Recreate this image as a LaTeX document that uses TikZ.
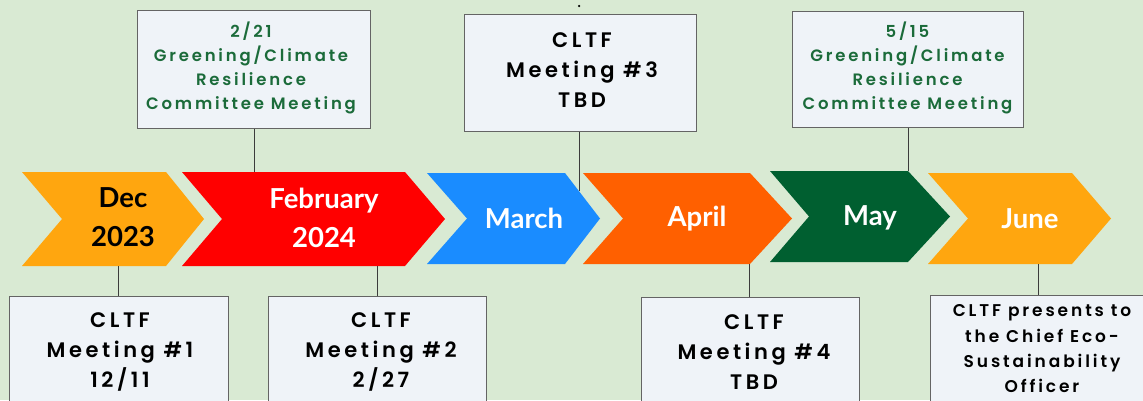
\documentclass[tikz,border=0pt]{standalone}
\usepackage{fontspec}
\newfontfamily\latofont{Lato}
\newfontfamily\popfont[LetterSpace=17]{Poppins SemiBold}
\definecolor{bg}{RGB}{217,234,211}
\definecolor{boxfill}{RGB}{239,243,248}
\definecolor{boxline}{RGB}{100,100,100}
\definecolor{connc}{RGB}{60,60,60}
\definecolor{decc}{RGB}{255,166,15}
\definecolor{febc}{RGB}{255,0,0}
\definecolor{marc}{RGB}{26,140,255}
\definecolor{aprc}{RGB}{255,96,0}
\definecolor{mayc}{RGB}{0,95,48}
\definecolor{junc}{RGB}{255,166,15}
\definecolor{greentext}{RGB}{27,107,58}
\tikzset{
  mon/.style={font=\latofont\bfseries\fontsize{27.5}{39}\selectfont, align=center, inner sep=0pt, text=white},
  boxn/.style={draw=boxline, fill=boxfill, line width=1pt, inner sep=0pt},
  toptext/.style={font=\popfont\fontsize{16.5}{24}\selectfont, align=center, text=greentext, inner sep=0pt},
  bottext/.style={font=\popfont\fontsize{21}{30}\selectfont, align=center, text=black, inner sep=0pt},
  conn/.style={draw=connc, line width=1pt},
}
\begin{document}
\begin{tikzpicture}[x=1pt,y=-1pt]
\fill[bg] (0,0) rectangle (1143,400);
\useasboundingbox (0,0) rectangle (1143,400);
\clip (0,0) rectangle (1143,400);

% chevrons
\fill[decc] (22,172) -- (166,172) -- (204,219) -- (166,266) -- (22,266) -- (62,219) -- cycle;
\fill[febc] (182,172) -- (405,172) -- (445,219) -- (405,266) -- (182,266) -- (222,219) -- cycle;
\fill[marc] (427,173) -- (565,173) -- (600,218.5) -- (565,264) -- (427,264) -- (467,218.5) -- cycle;
\fill[aprc] (583,173) -- (750,173) -- (792,218.5) -- (750,264) -- (583,264) -- (623,218.5) -- cycle;
\fill[mayc] (770,171) -- (908,171) -- (950,216.5) -- (908,262) -- (770,262) -- (809,216.5) -- cycle;
\fill[junc] (928,173) -- (1072,173) -- (1111,218.5) -- (1072,264) -- (928,264) -- (968,218.5) -- cycle;

\node[mon, text=black] (dec) at (123,217.5) {Dec\\2023};
\node[mon] (feb) at (324,217.5) {February\\2024};
\node[mon] (mar) at (524,218) {March};
\node[mon] (apr) at (697,219) {April};
\node[mon] (may) at (870,218) {May};
\node[mon] (jun) at (1030,219) {June};

\coordinate (dectop) at (118,266);
\coordinate (febtop) at (254,172);
\coordinate (febbot) at (377,266);
\coordinate (maredge) at (579,191);
\coordinate (aprbot) at (749,264);
\coordinate (maytop) at (908,171);
\coordinate (junbot) at (1038,264);

% top boxes
\node[boxn, minimum width=233pt, minimum height=118pt] (t1) at (254,69) {};
\node[toptext] (t1t) at (251,68) {2/21\\Greening/Climate\\Resilience\\Committee Meeting};
\node[boxn, minimum width=232pt, minimum height=117pt] (t2) at (580,72.5) {};
\node[bottext] (t2t) at (582,70) {CLTF\\Meeting \#3\\TBD};
\node[boxn, minimum width=231pt, minimum height=116pt] (t3) at (908,69) {};
\node[toptext] (t3t) at (907.5,68) {5/15\\Greening/Climate\\Resilience\\Committee Meeting};
\node[circle, fill=black, inner sep=0pt, minimum size=2.5pt] (dot) at (579,6) {};

% bottom boxes
\node[boxn, anchor=north west, minimum width=219pt, minimum height=140pt] (b1) at (9,296) {};
\node[bottext] (b1t) at (120,352) {CLTF\\Meeting \#1\\12/11};
\node[boxn, anchor=north west, minimum width=218pt, minimum height=140pt] (b2) at (268,296) {};
\node[bottext] (b2t) at (381,352) {CLTF\\Meeting \#2\\2/27};
\node[boxn, anchor=north west, minimum width=218pt, minimum height=140pt] (b3) at (641,297) {};
\node[bottext] (b3t) at (754,352) {CLTF\\Meeting \#4\\TBD};
\node[boxn, anchor=north west, minimum width=230pt, minimum height=140pt] (b4) at (930,295) {};
\node[font=\popfont\fontsize{17}{25.3}\selectfont, align=center, inner sep=0pt] (b4t) at (1042,349) {CLTF presents to\\the Chief Eco-\\Sustainability\\Officer};

% connectors
\draw[conn] (t1.south -| febtop) -- (febtop);
\draw[conn] (t2.south -| maredge) -- (maredge);
\draw[conn] (t3.south -| maytop) -- (maytop);
\draw[conn] (dectop) -- (b1.north -| dectop);
\draw[conn] (febbot) -- (b2.north -| febbot);
\draw[conn] (aprbot) -- (b3.north -| aprbot);
\draw[conn] (junbot) -- (b4.north -| junbot);
\end{tikzpicture}
\end{document}
